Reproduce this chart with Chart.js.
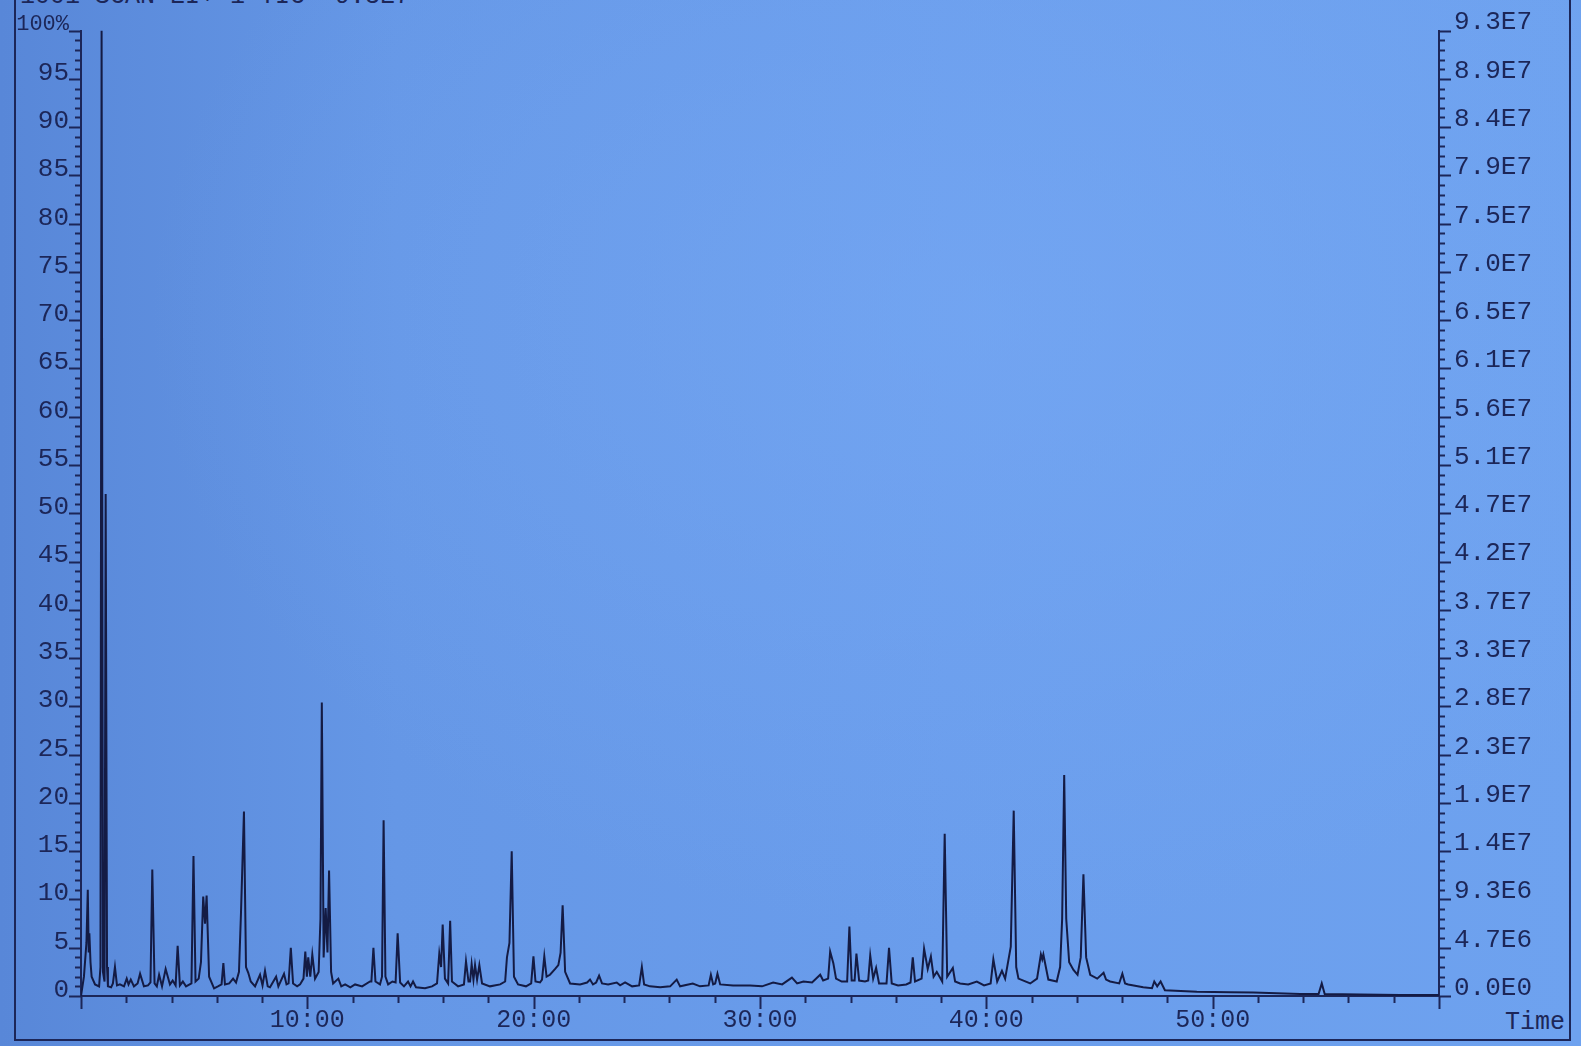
<!DOCTYPE html>
<html>
<head>
<meta charset="utf-8">
<script src="https://cdn.jsdelivr.net/npm/chart.js@4.4.1/dist/chart.umd.min.js"></script>
<style>
  html, body { margin: 0; padding: 0; }
  body {
    width: 1581px; height: 1046px; overflow: hidden; position: relative;
    background:
      radial-gradient(ellipse at 62% 30%, rgba(120,170,245,0.55), rgba(120,170,245,0) 60%),
      linear-gradient(to right, #5887d8 0%, #6597e6 25%, #6a9dec 60%, #6ea2ef 100%);
  }
  #frame {
    position: absolute; left: 14px; top: -20px; width: 1557px; height: 1061px;
    border: 2px solid #1c2658; box-sizing: border-box;
  }
  #title {
    position: absolute; left: 20px; top: -18px;
    font: 25px "Liberation Mono", "DejaVu Sans Mono", monospace; color: #1c2658;
    white-space: pre;
  }
  #time {
    position: absolute; left: 1505px; top: 1008px;
    font: 25px "Liberation Mono", "DejaVu Sans Mono", monospace; color: #1c2658;
  }
  canvas { position: absolute; left: 0; top: 0; }
</style>
</head>
<body>
<div id="frame"></div>
<div id="title">1001 SCAN EI+ 1 TIC  9.3E7</div>
<div id="time">Time</div>
<canvas id="chart" width="1581" height="1046"></canvas>
<script>
// ================= DATA =================
// retention time (min) and relative intensity (%)
const times = [
  0.00, 0.13, 0.24, 0.30, 0.34, 0.37, 0.42, 0.47, 0.62, 0.80,
  0.86, 0.91, 0.97, 1.04, 1.09, 1.15, 1.19, 1.33, 1.41, 1.50,
  1.59, 1.72, 1.90, 2.02, 2.10, 2.20, 2.34, 2.50, 2.61, 2.78,
  2.96, 3.07, 3.15, 3.25, 3.35, 3.45, 3.58, 3.74, 3.93, 4.05,
  4.18, 4.27, 4.37, 4.50, 4.64, 4.88, 4.97, 5.06, 5.20, 5.30,
  5.40, 5.48, 5.55, 5.66, 5.88, 6.05, 6.21, 6.29, 6.36, 6.55,
  6.72, 6.85, 6.98, 7.07, 7.20, 7.29, 7.39, 7.50, 7.69, 7.91,
  8.02, 8.13, 8.25, 8.35, 8.62, 8.72, 8.97, 9.08, 9.17, 9.27,
  9.37, 9.55, 9.68, 9.83, 9.91, 9.98, 10.04, 10.13, 10.22, 10.34,
  10.50, 10.58, 10.64, 10.72, 10.81, 10.89, 10.96, 11.05, 11.14, 11.37,
  11.50, 11.67, 11.90, 12.11, 12.42, 12.77, 12.83, 12.92, 13.01, 13.21,
  13.30, 13.37, 13.45, 13.57, 13.76, 13.90, 13.99, 14.10, 14.27, 14.45,
  14.56, 14.67, 14.80, 15.20, 15.51, 15.73, 15.83, 15.91, 15.98, 16.08,
  16.22, 16.31, 16.39, 16.66, 16.92, 17.01, 17.12, 17.19, 17.26, 17.34,
  17.41, 17.50, 17.60, 17.72, 18.07, 18.52, 18.74, 18.82, 18.93, 19.03,
  19.13, 19.31, 19.66, 19.89, 19.99, 20.08, 20.28, 20.37, 20.47, 20.57,
  20.72, 20.95, 21.09, 21.19, 21.28, 21.39, 21.61, 22.05, 22.36, 22.49,
  22.62, 22.76, 22.89, 23.02, 23.29, 23.67, 23.82, 24.04, 24.35, 24.66,
  24.78, 24.88, 25.14, 25.59, 26.03, 26.32, 26.47, 27.03, 27.35, 27.73,
  27.83, 27.93, 28.02, 28.12, 28.24, 28.81, 29.56, 30.09, 30.58, 30.98,
  31.41, 31.64, 31.92, 32.30, 32.66, 32.79, 33.01, 33.10, 33.24, 33.36,
  33.61, 33.85, 33.95, 34.05, 34.18, 34.26, 34.38, 34.64, 34.78, 34.87,
  35.00, 35.13, 35.26, 35.59, 35.70, 35.82, 36.10, 36.46, 36.65, 36.75,
  36.85, 37.14, 37.25, 37.41, 37.55, 37.67, 37.81, 38.05, 38.16, 38.27,
  38.52, 38.62, 38.84, 39.20, 39.58, 39.90, 40.19, 40.31, 40.48, 40.69,
  40.83, 41.08, 41.21, 41.32, 41.42, 41.94, 42.24, 42.41, 42.47, 42.52,
  42.74, 43.11, 43.26, 43.35, 43.44, 43.53, 43.66, 43.85, 44.03, 44.17,
  44.29, 44.41, 44.59, 44.90, 45.18, 45.29, 45.47, 45.87, 46.01, 46.13,
  46.27, 46.93, 47.32, 47.42, 47.55, 47.70, 47.89, 49.30, 50.77, 51.80,
  53.87, 54.68, 54.82, 54.95, 56.52, 58.29, 60.00
];
const intensity = [
  0.0, 2.0, 5.5, 11.0, 4.5, 6.5, 3.5, 2.0, 1.2, 1.0,
  3.0, 100, 2.5, 1.5, 52, 3.0, 1.0, 0.9, 1.3, 3.0,
  1.1, 1.2, 1.0, 1.8, 1.2, 1.7, 1.0, 1.3, 2.3, 1.0,
  1.1, 1.4, 13.1, 1.3, 1.0, 2.2, 1.0, 2.8, 1.2, 1.6,
  1.1, 5.2, 1.1, 1.5, 1.0, 1.3, 14.5, 1.5, 1.8, 3.5,
  10.3, 7.5, 10.4, 2.0, 0.8, 1.0, 1.2, 3.4, 1.2, 1.3,
  1.8, 1.4, 2.5, 8.7, 19.1, 3.0, 2.4, 1.5, 1.0, 2.2,
  1.1, 2.6, 1.0, 0.9, 2.0, 1.0, 2.3, 1.2, 1.3, 5.0,
  1.3, 1.0, 1.2, 1.8, 4.6, 2.0, 4.0, 2.0, 4.3, 1.8,
  2.5, 8.0, 30.4, 4.0, 9.1, 4.5, 13.0, 2.5, 1.3, 1.8,
  1.0, 1.2, 0.9, 1.2, 1.0, 1.5, 1.5, 5.0, 1.5, 1.2,
  2.0, 18.2, 2.0, 1.2, 1.5, 1.4, 6.5, 1.4, 1.0, 1.5,
  1.0, 1.5, 0.9, 0.8, 1.0, 1.3, 4.4, 3.0, 7.4, 1.8,
  1.3, 7.8, 1.5, 1.0, 1.2, 3.6, 1.5, 1.5, 3.3, 1.7,
  3.2, 1.7, 3.2, 1.3, 1.0, 1.2, 1.5, 4.0, 5.5, 15.0,
  2.0, 1.2, 1.0, 1.3, 4.1, 1.5, 1.4, 1.7, 4.1, 2.0,
  2.2, 2.8, 3.2, 4.5, 9.4, 2.5, 1.3, 1.2, 1.4, 1.7,
  1.2, 1.4, 2.1, 1.3, 1.2, 1.4, 1.1, 1.4, 1.0, 1.1,
  3.0, 1.2, 1.0, 0.9, 1.0, 1.7, 1.0, 1.3, 1.0, 1.1,
  2.2, 1.2, 1.3, 2.3, 1.2, 1.1, 1.1, 1.0, 1.4, 1.2,
  1.9, 1.3, 1.5, 1.4, 2.2, 1.6, 1.8, 4.6, 3.4, 1.8,
  1.5, 1.5, 7.2, 1.6, 1.6, 4.4, 1.6, 1.5, 1.6, 4.2,
  1.8, 2.9, 1.3, 1.3, 5.0, 1.3, 1.1, 1.2, 1.4, 4.0,
  1.5, 1.8, 4.9, 2.8, 4.1, 2.0, 2.5, 1.5, 16.8, 2.0,
  2.9, 1.5, 1.3, 1.2, 1.5, 1.1, 1.3, 3.8, 1.5, 2.6,
  1.8, 5.1, 19.2, 3.0, 1.8, 1.3, 1.8, 4.3, 3.8, 4.3,
  1.7, 1.5, 3.0, 8.0, 22.9, 8.0, 3.5, 2.7, 2.2, 4.0,
  12.6, 4.0, 2.2, 1.8, 2.4, 1.7, 1.5, 1.3, 2.3, 1.3,
  1.2, 0.9, 0.8, 1.5, 1.0, 1.5, 0.6, 0.45, 0.4, 0.35,
  0.2, 0.2, 1.3, 0.2, 0.15, 0.1, 0.1
];

// axis labels
const timeTickValues = [10, 20, 30, 40, 50];
const timeTickLabels = ['10:00', '20:00', '30:00', '40:00', '50:00'];
const countLabels = [
  '0.0E0', '4.7E6', '9.3E6', '1.4E7', '1.9E7', '2.3E7', '2.8E7', '3.3E7', '3.7E7', '4.2E7', '4.7E7',
  '5.1E7', '5.6E7', '6.1E7', '6.5E7', '7.0E7', '7.5E7', '7.9E7', '8.4E7', '8.9E7', '9.3E7'
];

// ================= STYLE =================
const ink = '#1c2658';
const traceInk = '#141b44';
const monoFont = '"Liberation Mono", "DejaVu Sans Mono", monospace';

// ================= TICK MARKS =================
// long ticks every 5 % / 10 min, short ones every 1 % / 2 min
const tickMarks = {
  id: 'tickMarks',
  afterDraw(chart) {
    const { ctx, chartArea, scales } = chart;
    ctx.save();
    ctx.strokeStyle = ink;
    ctx.lineWidth = 2;
    ctx.beginPath();
    for (let v = 0; v <= 100; v += 1) {
      const y = Math.round(scales.y.getPixelForValue(v)) + 0.5;
      const len = v % 5 === 0 ? 12 : 6;
      ctx.moveTo(chartArea.left - len, y);
      ctx.lineTo(chartArea.left, y);
      ctx.moveTo(chartArea.right, y);
      ctx.lineTo(chartArea.right + len, y);
    }
    for (let v = 0; v <= 60; v += 2) {
      const x = Math.round(scales.x.getPixelForValue(v)) + 0.5;
      const len = v % 10 === 0 ? 13 : 7;
      ctx.moveTo(x, chartArea.bottom);
      ctx.lineTo(x, chartArea.bottom + len);
    }
    ctx.stroke();
    ctx.restore();
  }
};

// ================= CHART =================
new Chart(document.getElementById('chart'), {
  type: 'line',
  data: {
    datasets: [{
      data: times.map((t, i) => ({ x: t, y: intensity[i] })),
      borderColor: traceInk,
      borderWidth: 2,
      pointRadius: 0,
      tension: 0,
      fill: false,
      yAxisID: 'y'
    }]
  },
  options: {
    responsive: false,
    animation: false,
    devicePixelRatio: 1,
    layout: { padding: { top: 30, left: 0, right: 0, bottom: 0 } },
    plugins: { legend: { display: false }, tooltip: { enabled: false } },
    scales: {
      x: {
        type: 'linear', min: 0, max: 60,
        afterFit: s => { s.height = 50; },
        grid: { display: false, drawTicks: false },
        border: { display: true, color: ink, width: 2 },
        ticks: {
          stepSize: 10, padding: 9, maxRotation: 0, autoSkip: false,
          color: ink, font: { family: monoFont, size: 25 },
          callback: v => {
            const i = timeTickValues.indexOf(v);
            return i < 0 ? '' : timeTickLabels[i];
          }
        }
      },
      y: {
        position: 'left', min: 0, max: 100,
        afterFit: s => { s.width = 81; },
        grid: { display: false, drawTicks: false },
        border: { display: true, color: ink, width: 2 },
        ticks: {
          stepSize: 5, padding: 12, labelOffset: -6, autoSkip: false,
          color: ink,
          font: ctx => ({ family: monoFont, size: ctx.tick && ctx.tick.value === 100 ? 22 : 26 }),
          callback: v => v === 100 ? '100%' : String(v)
        }
      },
      y2: {
        position: 'right', min: 0, max: 100,
        afterFit: s => { s.width = 1581 - 1439; },
        grid: { display: false, drawTicks: false },
        border: { display: true, color: ink, width: 2 },
        ticks: {
          stepSize: 5, padding: 15, labelOffset: -8, autoSkip: false,
          color: ink, font: { family: monoFont, size: 26 },
          callback: (v, i) => countLabels[i]
        }
      }
    }
  },
  plugins: [tickMarks]
});
</script>
</body>
</html>
